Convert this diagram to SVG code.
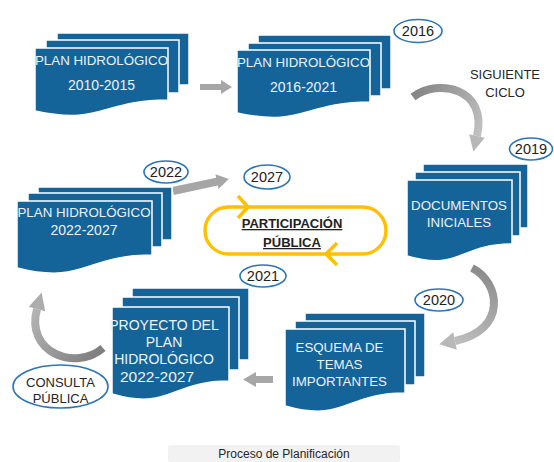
<svg xmlns="http://www.w3.org/2000/svg" width="554" height="462" viewBox="0 0 554 462">
<defs>
<style>
.sheet{fill:#14649A;stroke:#ffffff;stroke-width:1.5}
.st{font-family:"Liberation Sans",Arial,sans-serif;font-size:13.3px;fill:#EEF3F8;text-anchor:middle}
.dg{font-size:14px}
.yr{fill:#ffffff;stroke:#2E75B6;stroke-width:1.6}
.yt{font-family:"Liberation Sans",Arial,sans-serif;font-size:14.5px;fill:#222222;text-anchor:middle}
.lb{font-family:"Liberation Sans",Arial,sans-serif;font-size:13px;fill:#262626;text-anchor:middle}
.ga{fill:#A6A6A6}
</style>
<linearGradient id="gA" gradientUnits="userSpaceOnUse" x1="413" y1="97" x2="480" y2="140"><stop offset="0" stop-color="#868686"/><stop offset="1" stop-color="#C4C4C4"/></linearGradient>
<linearGradient id="gB" gradientUnits="userSpaceOnUse" x1="472" y1="268" x2="450" y2="340"><stop offset="0" stop-color="#8C8C8C"/><stop offset="1" stop-color="#BDBDBD"/></linearGradient>
<linearGradient id="gC" gradientUnits="userSpaceOnUse" x1="103" y1="348" x2="40" y2="300"><stop offset="0" stop-color="#7F7F7F"/><stop offset="1" stop-color="#B5B5B5"/></linearGradient>
</defs>
<rect width="554" height="462" fill="#ffffff"/>

<g id="connectors">
<polygon class="ga" points="200,84 221,84 221,80 232,87 221,94 221,90 200,90"/>
<path d="M413,97 C438,78 488,88 477,136" fill="none" stroke="url(#gA)" stroke-width="8"/>
<polygon fill="#B8B8B8" points="484.8,137.8 473.4,151.6 469.2,134.2"/>
<path d="M472,268 C500,282 508,330 455,341" fill="none" stroke="url(#gB)" stroke-width="8"/>
<polygon fill="#B8B8B8" points="456.8,349.8 439.3,344.2 453.2,332.2"/>
<polygon class="ga" points="273,376 256,376 256,372 243,379.5 256,387 256,383 273,383"/>
<path d="M103,348 C75,372 25,352 37,309" fill="none" stroke="url(#gC)" stroke-width="8"/>
<polygon fill="#ADADAD" points="45.2,311.3 41.6,292.6 28.8,306.7"/>
<g transform="translate(173,191) rotate(-12.1)"><polygon class="ga" points="0,-4 45,-4 45,-7.5 57,0 45,7.5 45,4 0,4"/></g>
</g>

<g id="node-plan-2010-2015">
<rect class="sheet" x="57" y="33" width="132" height="52"/>
<rect class="sheet" x="46" y="40" width="133" height="53"/>
<path class="sheet" d="M35,48 H168 V100 C101.5,100 101.5,125.5 35,111 Z"/>
<text class="st" x="101.5" y="65">PLAN HIDROLÓGICO</text>
<text class="st dg" x="101.5" y="90">2010-2015</text>
</g>

<g id="node-plan-2016-2021">
<rect class="sheet" x="258" y="35" width="133" height="54"/>
<rect class="sheet" x="248" y="43" width="133" height="53"/>
<path class="sheet" d="M237,50 H370 V102 C303.5,102 303.5,127.5 237,113 Z"/>
<text class="st" x="303.5" y="67">PLAN HIDROLÓGICO</text>
<text class="st dg" x="303.5" y="92">2016-2021</text>
</g>

<g id="label-2016"><ellipse class="yr" cx="418" cy="31" rx="24" ry="11.5"/><text class="yt" x="418" y="36">2016</text></g>
<g id="label-siguiente-ciclo"><text class="lb" x="505" y="79">SIGUIENTE</text><text class="lb" x="505" y="97">CICLO</text></g>

<g id="node-documentos-iniciales">
<rect class="sheet" x="423" y="164" width="105" height="64"/>
<rect class="sheet" x="415" y="172" width="105" height="64"/>
<path class="sheet" d="M407,180 H512 V244 C459.5,244 459.5,271.8 407,256 Z"/>
<text class="st" x="459" y="210">DOCUMENTOS</text>
<text class="st" x="459" y="227">INICIALES</text>
</g>
<g id="label-2019"><ellipse class="yr" cx="531" cy="149" rx="21.5" ry="11"/><text class="yt" x="531" y="154">2019</text></g>

<g id="label-2020"><ellipse class="yr" cx="439" cy="300" rx="24" ry="11"/><text class="yt" x="439" y="305">2020</text></g>

<g id="node-esquema-temas">
<rect class="sheet" x="305" y="313" width="120" height="64"/>
<rect class="sheet" x="295" y="321" width="120" height="64"/>
<path class="sheet" d="M285,329 H405 V393 C345,393 345,423 285,406 Z"/>
<text class="st" x="339.5" y="352">ESQUEMA DE</text>
<text class="st" x="339.5" y="369">TEMAS</text>
<text class="st" x="339.5" y="386">IMPORTANTES</text>
</g>

<g id="node-proyecto-plan">
<rect class="sheet" x="132" y="288" width="117" height="72"/>
<rect class="sheet" x="122" y="297" width="117" height="73"/>
<path class="sheet" d="M112,307 H229 V381 C170.5,381 170.5,411 112,394 Z"/>
<text class="st" x="164" y="330" style="font-size:14px">PROYECTO DEL</text>
<text class="st" x="164" y="347" style="font-size:14px">PLAN</text>
<text class="st" x="164" y="364" style="font-size:14px">HIDROLÓGICO</text>
<text class="st" x="157" y="382" style="font-size:15.5px">2022-2027</text>
</g>
<g id="label-2021"><ellipse class="yr" cx="263" cy="276" rx="23" ry="11"/><text class="yt" x="263" y="281">2021</text></g>

<g id="label-consulta-publica"><ellipse class="yr" cx="60.5" cy="386.5" rx="47.5" ry="21.5"/><text class="lb" x="60.5" y="387">CONSULTA</text><text class="lb" x="60.5" y="403">PÚBLICA</text></g>

<g id="node-plan-2022-2027">
<rect class="sheet" x="38" y="187" width="134" height="53"/>
<rect class="sheet" x="28" y="193" width="134" height="54"/>
<path class="sheet" d="M17,201 H152 V255 C84.5,255 84.5,285 17,268 Z"/>
<text class="st" x="84" y="217">PLAN HIDROLÓGICO</text>
<text class="st dg" x="84" y="235">2022-2027</text>
</g>
<g id="label-2022"><ellipse class="yr" cx="166" cy="172" rx="22" ry="11"/><text class="yt" x="166" y="177">2022</text></g>
<g id="label-2027"><ellipse class="yr" cx="267" cy="177" rx="23" ry="12"/><text class="yt" x="267" y="182">2027</text></g>

<g id="node-participacion-publica">
<rect x="205" y="207" width="181" height="47" rx="23.5" fill="none" stroke="#FFC000" stroke-width="3.5"/>
<polyline points="238,196 248,207 238,218" fill="none" stroke="#FFC000" stroke-width="3.5" stroke-linejoin="miter"/>
<polyline points="337,243 326,254 337,265" fill="none" stroke="#FFC000" stroke-width="3.5"/>
<text x="292" y="228" font-family="Liberation Sans, Arial, sans-serif" font-size="13px" font-weight="bold" fill="#222222" text-anchor="middle" text-decoration="underline">PARTICIPACIÓN</text>
<text x="292" y="247" font-family="Liberation Sans, Arial, sans-serif" font-size="13px" font-weight="bold" fill="#222222" text-anchor="middle" text-decoration="underline">PÚBLICA</text>
</g>

<g id="caption">
<rect x="168" y="445" width="232" height="17" rx="2" fill="#F2F2F2"/>
<text x="284" y="458" font-family="Liberation Sans, Arial, sans-serif" font-size="12px" fill="#262626" text-anchor="middle">Proceso de Planificación</text>
</g>
</svg>
